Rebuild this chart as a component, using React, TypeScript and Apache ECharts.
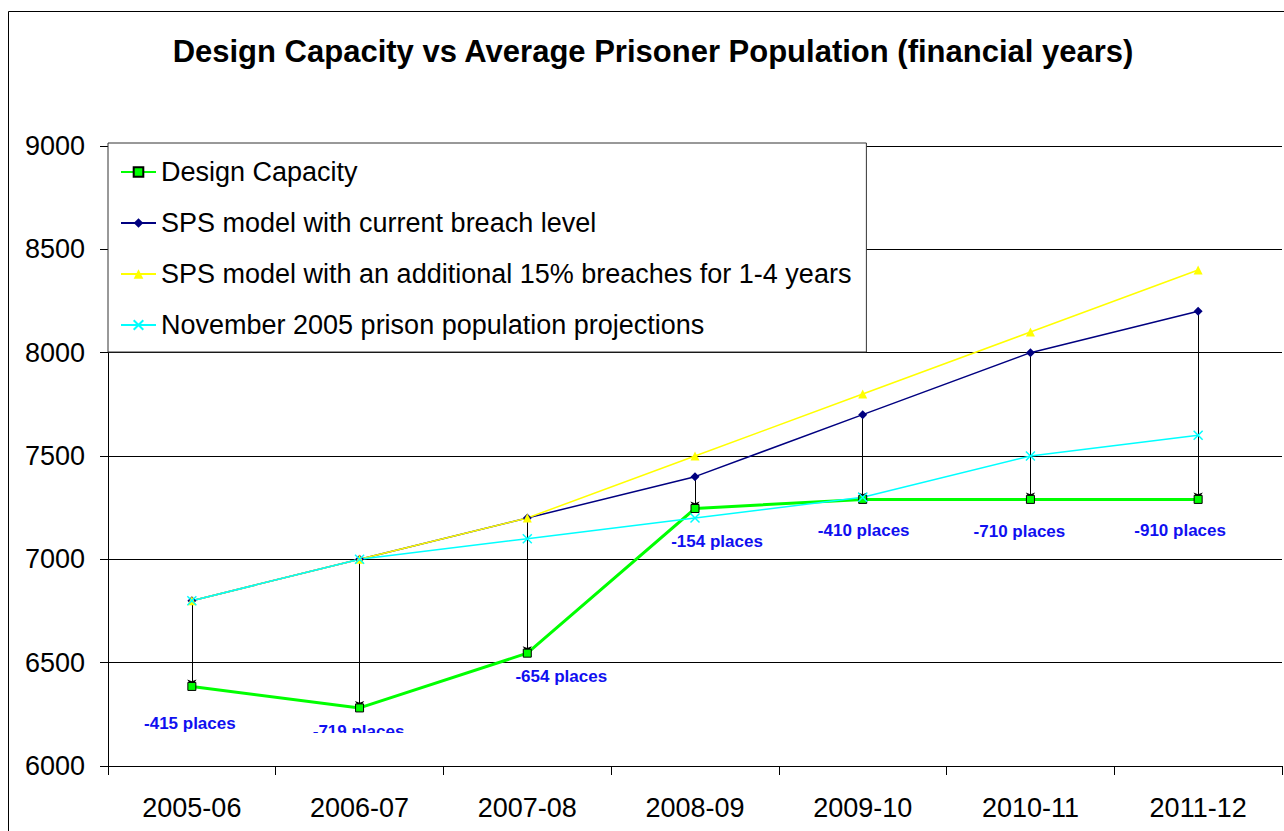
import React, { useEffect, useRef } from "react";
import * as echarts from "echarts";

// Financial years on the category axis
const categories = ["2005-06", "2006-07", "2007-08", "2008-09", "2009-10", "2010-11", "2011-12"];

// Places / prisoners per year
const designCapacity = [6385, 6281, 6546, 7246, 7290, 7290, 7290];
const spsCurrent = [6800, 7000, 7200, 7400, 7700, 8000, 8200];
const spsBreaches = [6800, 7000, 7200, 7500, 7800, 8100, 8400];
const nov2005 = [6800, 7000, 7100, 7200, 7300, 7500, 7600];

const seriesNames = [
  "Design Capacity",
  "SPS model with current breach level",
  "SPS model with an additional 15% breaches for 1-4 years",
  "November 2005 prison population projections",
];

// Placement of the shortfall labels relative to each Design Capacity point (px)
const labelOffsets: [number, number][] = [
  [-2, 37],
  [-1, 24],
  [34, 23],
  [22, 33],
  [1, 31],
  [-11, 32],
  [-18, 31],
];
// Lower cut-off of each label box relative to the point (px), null = not cut
const labelClip: (number | null)[] = [null, 25, null, null, null, null, null];

const FONT = "'Liberation Sans', Arial, Helvetica, sans-serif";

export default function App() {
  const ref = useRef<HTMLDivElement>(null);

  useEffect(() => {
    document.body.style.margin = "0";
    if (!ref.current) return;
    const chart = echarts.init(ref.current, undefined, { renderer: "svg" });

    const gapText = designCapacity.map((d, i) => `${d - spsCurrent[i]} places`);

    chart.setOption({
      animation: false,
      backgroundColor: "#ffffff",
      textStyle: { fontFamily: FONT },
      graphic: [
        {
          type: "rect",
          z: -10,
          shape: { x: 8.5, y: 11.5, width: 1400, height: 1000 },
          style: { fill: "none", stroke: "#000", lineWidth: 1 },
          silent: true,
        },
        {
          type: "text",
          x: 653,
          y: 51,
          style: {
            text: "Design Capacity vs Average Prisoner Population (financial years)",
            font: `bold 31px ${FONT}`,
            fill: "#000",
            align: "center",
            verticalAlign: "middle",
          },
        },
      ],
      grid: { left: 108, top: 146, right: 2, bottom: 65, containLabel: false },
      legend: {
        left: 108,
        top: 143,
        orient: "vertical",
        backgroundColor: "#fff",
        borderColor: "#333",
        borderWidth: 1,
        padding: [14, 15, 12, 12],
        itemGap: 21,
        itemWidth: 35,
        itemHeight: 12,
        z: 10,
        textStyle: { fontSize: 27, color: "#000", fontFamily: FONT, lineHeight: 30 },
        data: seriesNames,
      },
      xAxis: {
        type: "category",
        data: categories,
        boundaryGap: true,
        axisLine: { show: true, lineStyle: { color: "#000", width: 1 } },
        axisTick: { show: true, length: 9, lineStyle: { color: "#000" } },
        axisLabel: { fontSize: 27, color: "#000", margin: 28, fontFamily: FONT },
        splitLine: { show: false },
      },
      yAxis: {
        type: "value",
        min: 6000,
        max: 9000,
        interval: 500,
        axisLine: { show: true, lineStyle: { color: "#000", width: 1 } },
        axisTick: { show: true, length: 8, lineStyle: { color: "#000" } },
        axisLabel: {
          fontSize: 27,
          color: "#000",
          margin: 23,
          fontFamily: FONT,
          formatter: (v: number) => String(v),
        },
        splitLine: { show: true, lineStyle: { color: "#000", width: 1 } },
      },
      series: [
        {
          name: "shortfall",
          type: "lines",
          coordinateSystem: "cartesian2d",
          silent: true,
          z: 1,
          symbol: ["none", "arrow"],
          symbolSize: 7,
          lineStyle: { color: "#000", width: 1, opacity: 1 },
          data: categories.map((_, i) => ({
            coords: [
              [i, spsCurrent[i]],
              [i, designCapacity[i]],
            ],
          })),
        },
        {
          name: seriesNames[0],
          type: "line",
          z: 2,
          data: designCapacity,
          color: "#00FF00",
          symbol: "rect",
          symbolSize: 8,
          lineStyle: { color: "#00FF00", width: 3 },
          itemStyle: { color: "#00FF00", borderColor: "#000", borderWidth: 1 },
        },
        {
          name: seriesNames[1],
          type: "line",
          z: 2,
          data: spsCurrent,
          color: "#000080",
          symbol: "diamond",
          symbolSize: 9,
          lineStyle: { color: "#000080", width: 1.5 },
          itemStyle: { color: "#000080" },
        },
        {
          name: seriesNames[2],
          type: "line",
          z: 2,
          data: spsBreaches,
          color: "#FFFF00",
          symbol: "triangle",
          symbolSize: 9,
          lineStyle: { color: "#FFFF00", width: 1.5 },
          itemStyle: { color: "#FFFF00" },
        },
        {
          name: seriesNames[3],
          type: "line",
          z: 2,
          data: nov2005,
          color: "#00FFFF",
          symbol: "path://M0,0L10,10M10,0L0,10",
          symbolSize: 9,
          lineStyle: { color: "#00FFFF", width: 1.5 },
          itemStyle: { color: "#00FFFF", borderColor: "#00FFFF", borderWidth: 1.5 },
        },
        {
          name: "shortfall labels",
          type: "custom",
          z: 3,
          silent: true,
          data: designCapacity.map((d, i) => [i, d]),
          renderItem: (params: any, api: any) => {
            const i = params.dataIndex;
            const p = api.coord([api.value(0), api.value(1)]);
            const [dx, dy] = labelOffsets[i];
            const clip = labelClip[i];
            return {
              type: "group",
              clipPath:
                clip == null
                  ? undefined
                  : { type: "rect", shape: { x: 0, y: 0, width: 2000, height: p[1] + clip } },
              children: [
                {
                  type: "text",
                  x: p[0] + dx,
                  y: p[1] + dy,
                  style: {
                    text: gapText[i],
                    font: `bold 17px ${FONT}`,
                    fill: "#1010F0",
                    align: "center",
                    verticalAlign: "middle",
                  },
                },
              ],
            };
          },
        },
      ],
    });

    return () => chart.dispose();
  }, []);

  return <div ref={ref} style={{ width: 1284, height: 831 }} />;
}
